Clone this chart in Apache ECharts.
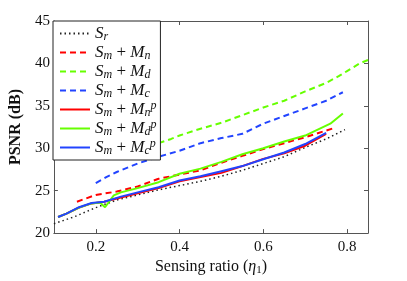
<!DOCTYPE html>
<html>
<head>
<meta charset="utf-8">
<script src="https://cdn.jsdelivr.net/npm/echarts@6/dist/echarts.min.js"></script>
<style>html,body{margin:0;padding:0;background:#fff}#c{width:407px;height:281px}</style>
</head>
<body>
<div id="c"></div>
<script>
// ---- data ----
const xTicks = [0.2, 0.4, 0.6, 0.8];
const yTicks = [20, 25, 30, 35, 40, 45];

const srX  = [0.10, 0.15, 0.20, 0.25, 0.30, 0.35, 0.40, 0.45, 0.50, 0.55, 0.60, 0.65, 0.70, 0.75, 0.795];
const srY  = [21.1, 21.95, 23.0, 23.9, 24.5, 25.1, 25.6, 26.1, 26.7, 27.4, 28.2, 29.0, 30.1, 31.1, 32.2];

const mnX  = [0.155, 0.20, 0.25, 0.30, 0.35, 0.40, 0.45, 0.50, 0.55, 0.60, 0.65, 0.70, 0.77];
const mnY  = [23.7, 24.5, 24.9, 25.5, 26.4, 26.9, 27.4, 28.3, 29.1, 29.9, 30.6, 31.3, 32.4];

const mdX  = [0.35, 0.38, 0.40, 0.45, 0.50, 0.55, 0.60, 0.65, 0.70, 0.75, 0.78, 0.80, 0.83, 0.85];
const mdY  = [30.6, 31.1, 31.5, 32.3, 33.0, 33.9, 34.8, 35.6, 36.7, 37.7, 38.5, 39.1, 40.0, 40.4];

const mcX  = [0.20, 0.225, 0.25, 0.30, 0.35, 0.40, 0.45, 0.50, 0.55, 0.60, 0.65, 0.70, 0.75, 0.79];
const mcY  = [25.9, 26.6, 27.2, 28.2, 29.0, 29.7, 30.6, 31.2, 31.7, 32.9, 33.8, 34.7, 35.6, 36.6];

const mnpX = [0.11, 0.13, 0.16, 0.19, 0.22, 0.26, 0.30, 0.35, 0.40, 0.45, 0.50, 0.55, 0.60, 0.65, 0.70, 0.75];
const mnpY = [21.9, 22.3, 23.0, 23.5, 23.7, 24.2, 24.7, 25.3, 26.1, 26.6, 27.1, 27.9, 28.75, 29.4, 30.3, 31.7];

const mdpX = [0.11, 0.13, 0.16, 0.19, 0.21, 0.222, 0.243, 0.26, 0.30, 0.35, 0.40, 0.45, 0.50, 0.55, 0.60, 0.65, 0.70, 0.73, 0.76, 0.79];
const mdpY = [21.9, 22.3, 23.0, 23.5, 23.6, 23.05, 24.45, 24.8, 25.3, 26.0, 27.0, 27.6, 28.4, 29.3, 30.0, 30.8, 31.5, 32.2, 32.9, 34.1];

const mcpX = [0.11, 0.13, 0.16, 0.19, 0.22, 0.26, 0.30, 0.35, 0.40, 0.45, 0.50, 0.55, 0.60, 0.65, 0.70, 0.75];
const mcpY = [21.9, 22.3, 23.05, 23.55, 23.7, 24.3, 24.8, 25.4, 26.2, 26.7, 27.3, 27.9, 28.7, 29.5, 30.5, 31.8];

const names = ['Sr', 'Sm+Mn', 'Sm+Md', 'Sm+Mc', 'Sm+Mnp', 'Sm+Mdp', 'Sm+Mcp'];
const legendRich = {
  'Sr':     '{i|S}{sub|r}',
  'Sm+Mn':  '{i|S}{sub|m}{t| + }{i|M}{sub|n}',
  'Sm+Md':  '{i|S}{sub|m}{t| + }{i|M}{sub|d}',
  'Sm+Mc':  '{i|S}{sub|m}{t| + }{i|M}{sub|c}',
  'Sm+Mnp': '{i|S}{sub|m}{t| + }{i|M}{sub|n}{sup|p}',
  'Sm+Mdp': '{i|S}{sub|m}{t| + }{i|M}{sub|d}{sup|p}',
  'Sm+Mcp': '{i|S}{sub|m}{t| + }{i|M}{sub|c}{sup|p}'
};

const RED = '#ff0000', GREEN = '#66ff00', BLUE = '#2244ff';
const zip = (xs, ys) => xs.map((x, i) => [x, ys[i]]);
const serif = 'Liberation Serif, DejaVu Serif, serif';

function line(name, xs, ys, color, type, width) {
  return {
    name, type: 'line', data: zip(xs, ys), symbol: 'none', smooth: false,
    lineStyle: { color, type, width }, itemStyle: { color }, z: 2
  };
}

const chart = echarts.init(document.getElementById('c'), null, { renderer: 'canvas' });
const axisLine = { show: true, lineStyle: { color: '#555', width: 1 } };
const tick = { show: true, inside: true, length: 4, lineStyle: { color: '#555' } };
const FS = 17;

chart.setOption({
  animation: false,
  backgroundColor: '#fff',
  grid: { left: 53, right: 39, top: 21, bottom: 41, show: false },
  xAxis: [{
    type: 'value', min: 0.1, max: 0.85, position: 'bottom',
    axisLine, axisTick: Object.assign({}, tick, { customValues: xTicks }),
    axisLabel: { customValues: xTicks, color: '#111', fontFamily: serif, fontSize: 15, margin: 6,
                 formatter: v => String(+v.toFixed(1)) },
    splitLine: { show: false },
    name: 'Sensing ratio ({i|η}{sub|1})', nameLocation: 'middle', nameGap: 22,
    nameTextStyle: { color: '#111', fontFamily: serif, fontSize: 16,
      rich: { i: { fontFamily: serif, fontStyle: 'italic', fontSize: 16, color: '#111' },
              sub: { fontFamily: serif, fontSize: 11, color: '#111', padding: [7, 0, 0, 0] } } }
  }, {
    type: 'value', min: 0.1, max: 0.85, position: 'top',
    axisLine, axisTick: Object.assign({}, tick, { customValues: xTicks }),
    axisLabel: { show: false }, splitLine: { show: false }
  }],
  yAxis: [{
    type: 'value', min: 20, max: 45, interval: 5, position: 'left',
    axisLine, axisTick: tick,
    axisLabel: { color: '#111', fontFamily: serif, fontSize: 15, margin: 4 },
    splitLine: { show: false },
    name: 'PSNR (dB)', nameLocation: 'middle', nameGap: 24,
    nameTextStyle: { color: '#111', fontFamily: serif, fontSize: 16, fontWeight: 'bold' }
  }, {
    type: 'value', min: 20, max: 45, interval: 5, position: 'right',
    axisLine, axisTick: tick, axisLabel: { show: false }, splitLine: { show: false }
  }],
  legend: {
    orient: 'vertical', left: 53, top: 21,
    data: names,
    backgroundColor: '#fff', borderColor: '#222', borderWidth: 1, borderRadius: 0,
    padding: [3, 4, 3, 6], itemGap: 0, itemWidth: 30, itemHeight: 10,
    itemStyle: { opacity: 0 },
    z: 10,
    formatter: n => legendRich[n],
    textStyle: {
      color: '#111', fontFamily: serif, fontSize: FS, lineHeight: 19,
      rich: {
        i: { fontFamily: serif, fontStyle: 'italic', fontSize: FS, color: '#111', lineHeight: 19 },
        t: { fontFamily: serif, fontSize: FS, color: '#111', lineHeight: 19 },
        sub: { fontFamily: serif, fontStyle: 'italic', fontSize: 12, color: '#111', padding: [7, 0, 0, 0], lineHeight: 19 },
        sup: { fontFamily: serif, fontStyle: 'italic', fontSize: 12, color: '#111', padding: [0, 0, 7, 0], lineHeight: 19 }
      }
    }
  },
  series: [
    line('Sr', srX, srY, '#222', [1.5, 3], 1.5),
    line('Sm+Mn', mnX, mnY, RED, [6, 4], 2),
    line('Sm+Md', mdX, mdY, GREEN, [6, 4], 2),
    line('Sm+Mc', mcX, mcY, BLUE, [6, 4], 2),
    line('Sm+Mnp', mnpX, mnpY, RED, 'solid', 2),
    line('Sm+Mdp', mdpX, mdpY, GREEN, 'solid', 2),
    line('Sm+Mcp', mcpX, mcpY, BLUE, 'solid', 2)
  ]
});
</script>
</body>
</html>
